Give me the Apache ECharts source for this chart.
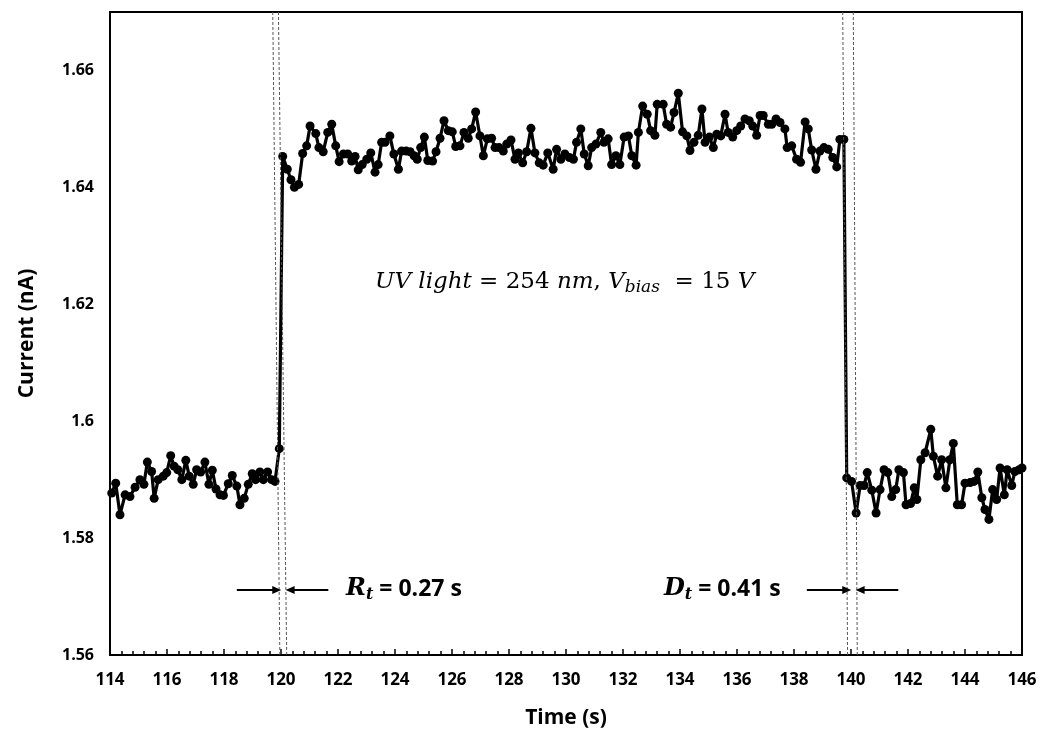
<!DOCTYPE html>
<html>
<head>
    <meta charset="utf-8">
    <script src="https://cdn.jsdelivr.net/npm/echarts@6.0.0/dist/echarts.min.js"></script>
</head>
<body style="margin:0;background:#fff;">
    <div id="main" style="width: 1044px;height:738px;"></div>
    <script type="text/javascript">

// time (s)
var times = [
    114.06,114.20,114.35,114.53,114.70,114.88,115.05,115.19,115.31,115.46,
    115.55,115.69,115.87,115.99,116.13,116.25,116.38,116.52,116.66,116.78,
    116.92,117.04,117.18,117.33,117.47,117.59,117.72,117.86,117.98,118.15,
    118.29,118.45,118.56,118.71,118.85,118.99,119.11,119.26,119.38,119.53,
    119.67,119.79,119.94,
    120.06,120.22,120.35,120.47,120.62,120.76,120.90,121.02,121.22,121.33,
    121.48,121.64,121.78,121.92,122.04,122.19,122.34,122.48,122.60,122.71,
    122.85,123.01,123.15,123.30,123.41,123.53,123.65,123.82,123.96,124.12,
    124.23,124.39,124.53,124.67,124.78,124.90,125.03,125.15,125.32,125.44,
    125.58,125.72,125.87,126.01,126.13,126.28,126.42,126.57,126.69,126.83,
    126.98,127.10,127.24,127.39,127.51,127.65,127.80,127.92,128.07,128.21,
    128.33,128.48,128.62,128.77,128.91,129.06,129.20,129.36,129.55,129.67,
    129.82,129.96,130.12,130.26,130.37,130.52,130.64,130.78,130.90,131.05,
    131.22,131.33,131.48,131.60,131.75,131.89,132.04,132.19,132.31,132.46,
    132.54,132.69,132.85,132.97,133.12,133.20,133.41,133.53,133.67,133.79,
    133.94,134.09,134.24,134.35,134.49,134.64,134.77,134.88,135.03,135.17,
    135.29,135.43,135.58,135.69,135.85,135.99,136.13,136.28,136.43,136.55,
    136.69,136.81,136.92,137.10,137.22,137.37,137.51,137.68,137.76,137.92,
    138.09,138.23,138.39,138.50,138.62,138.77,138.91,139.05,139.20,139.36,
    139.50,139.61,139.75,
    139.85,140.02,140.18,140.32,140.46,140.57,140.73,140.88,141.02,141.16,
    141.29,141.43,141.57,141.68,141.84,141.93,142.09,142.22,142.31,142.45,
    142.60,142.80,142.89,143.04,143.18,143.33,143.47,143.59,143.73,143.88,
    144.00,144.18,144.32,144.45,144.59,144.70,144.84,144.97,145.11,145.23,
    145.38,145.48,145.64,145.75,145.90,146.00
];

// current (nA)
var currents = [
    1.5877,1.5894,1.5840,1.5874,1.5871,1.5887,1.5900,1.5892,1.5930,1.5914,
    1.5868,1.5900,1.5906,1.5912,1.5941,1.5923,1.5917,1.5900,1.5933,1.5906,
    1.5892,1.5917,1.5913,1.5930,1.5892,1.5916,1.5884,1.5874,1.5873,1.5893,
    1.5907,1.5889,1.5857,1.5868,1.5892,1.5910,1.5900,1.5913,1.5900,1.5913,
    1.5900,1.5897,1.5953,
    1.6453,1.6431,1.6413,1.6400,1.6405,1.6458,1.6471,1.6505,1.6492,1.6468,
    1.6461,1.6494,1.6508,1.6471,1.6444,1.6457,1.6457,1.6445,1.6453,1.6430,
    1.6439,1.6448,1.6459,1.6426,1.6439,1.6477,1.6477,1.6488,1.6457,1.6431,
    1.6462,1.6462,1.6461,1.6454,1.6448,1.6468,1.6486,1.6446,1.6445,1.6461,
    1.6484,1.6514,1.6497,1.6495,1.6470,1.6471,1.6494,1.6484,1.6500,1.6529,
    1.6488,1.6454,1.6483,1.6484,1.6468,1.6468,1.6462,1.6474,1.6481,1.6448,
    1.6459,1.6442,1.6461,1.6501,1.6459,1.6442,1.6438,1.6459,1.6431,1.6465,
    1.6448,1.6457,1.6451,1.6448,1.6477,1.6500,1.6457,1.6437,1.6468,1.6474,
    1.6494,1.6477,1.6483,1.6439,1.6454,1.6439,1.6486,1.6488,1.6454,1.6438,
    1.6494,1.6539,1.6525,1.6497,1.6489,1.6542,1.6542,1.6508,1.6503,1.6528,
    1.6561,1.6495,1.6488,1.6463,1.6477,1.6489,1.6534,1.6477,1.6486,1.6468,
    1.6491,1.6488,1.6525,1.6494,1.6486,1.6497,1.6505,1.6517,1.6514,1.6505,
    1.6489,1.6523,1.6523,1.6508,1.6508,1.6517,1.6511,1.6500,1.6468,1.6471,
    1.6448,1.6443,1.6512,1.6500,1.6464,1.6431,1.6462,1.6468,1.6465,1.6451,
    1.6435,1.6482,1.6482,
    1.5903,1.5897,1.5843,1.5890,1.5890,1.5912,1.5882,1.5843,1.5883,1.5917,
    1.5912,1.5871,1.5883,1.5917,1.5912,1.5857,1.5859,1.5886,1.5866,1.5934,
    1.5946,1.5986,1.5940,1.5906,1.5934,1.5886,1.5934,1.5962,1.5857,1.5857,
    1.5894,1.5895,1.5897,1.5913,1.5869,1.5849,1.5832,1.5883,1.5866,1.5920,
    1.5874,1.5917,1.5890,1.5914,1.5917,1.5920
];

// dashed guide lines: [t at top, t at bottom]
var guideLines = [[119.71, 119.96], [119.91, 120.20], [139.71, 139.88], [140.08, 140.22]];
// arrows: [t start, t end] at the arrow level
var arrows = [[118.45, 119.85], [121.66, 120.32], [138.45, 139.85], [141.66, 140.32]];
var arrowLevel = 1.5711;

var yMin = 1.56, yMax = 1.67;

var data = [];
for (var i = 0; i < times.length; i++) {
    data.push([times[i], currents[i]]);
}

var markData = [];
guideLines.forEach(function (g) {
    markData.push([
        {coord: [g[0], yMax], symbol: 'none'},
        {coord: [g[1], yMin], symbol: 'none',
         lineStyle: {type: [3, 2], width: 1, color: '#555'}}
    ]);
});
arrows.forEach(function (a) {
    markData.push([
        {coord: [a[0], arrowLevel], symbol: 'none'},
        {coord: [a[1], arrowLevel], symbol: 'triangle', symbolSize: [8, 9],
         lineStyle: {type: 'solid', width: 1.8, color: '#000'}}
    ]);
});

var font = 'Open Sans';

var tRich = {
    r: {fontFamily: 'DejaVu Serif', fontStyle: 'italic', fontWeight: 'bold', fontSize: 24},
    s: {fontFamily: 'DejaVu Serif', fontStyle: 'italic', fontWeight: 'bold', fontSize: 16, padding: [11, 0, 0, 0]},
    b: {fontFamily: font, fontWeight: 'bold', fontSize: 23}
};

var option = {
    animation: false,
    grid: {
        left: 110, right: 22, top: 12, bottom: 83,
        show: true, borderColor: '#000', borderWidth: 2
    },
    xAxis: {
        type: 'value',
        min: 114, max: 146, interval: 2,
        name: 'Time (s)',
        nameLocation: 'middle',
        nameGap: 53,
        nameTextStyle: {fontFamily: font, fontWeight: 'bold', fontSize: 21, color: '#000'},
        axisLine: {lineStyle: {color: '#000', width: 2}},
        axisTick: {inside: true, length: 6, lineStyle: {color: '#000', width: 1.5}},
        minorTick: {show: true, splitNumber: 5, length: 4, lineStyle: {color: '#000', width: 1.5}},
        axisLabel: {fontFamily: font, fontWeight: 'bold', fontSize: 17, color: '#000', margin: 17},
        splitLine: {show: false}
    },
    yAxis: {
        type: 'value',
        min: yMin, max: yMax, interval: 0.02,
        name: 'Current (nA)',
        nameLocation: 'middle',
        nameGap: 72,
        nameTextStyle: {fontFamily: font, fontWeight: 'bold', fontSize: 21, color: '#000'},
        axisLine: {show: true, lineStyle: {color: '#000', width: 2}},
        axisTick: {show: false},
        axisLabel: {fontFamily: font, fontWeight: 'bold', fontSize: 16, color: '#000', margin: 16,
                    showMaxLabel: false},
        splitLine: {show: false}
    },
    series: [{
        type: 'line',
        data: data,
        symbol: 'circle',
        symbolSize: 9,
        lineStyle: {color: '#000', width: 3.2},
        itemStyle: {color: '#000'},
        markLine: {
            silent: true,
            animation: false,
            label: {show: false},
            lineStyle: {type: [3, 2], width: 1, color: '#555'},
            data: markData
        }
    }],
    graphic: [
        {
            type: 'text', x: 375, y: 282,
            style: {
                text: '{i|UV light} = 254 {i|nm}, {i|V}{s|bias}  = 15 {i|V}',
                fontFamily: 'DejaVu Serif', fontSize: 23, fill: '#000',
                verticalAlign: 'middle',
                rich: {
                    i: {fontFamily: 'DejaVu Serif', fontStyle: 'italic', fontSize: 23},
                    s: {fontFamily: 'DejaVu Serif', fontStyle: 'italic', fontSize: 17, padding: [12, 0, 0, 0]}
                }
            }
        },
        {
            type: 'text', x: 346, y: 589,
            style: {text: '{r|R}{s|t}{b| = 0.27 s}', verticalAlign: 'middle', rich: tRich}
        },
        {
            type: 'text', x: 664, y: 589,
            style: {text: '{r|D}{s|t}{b| = 0.41 s}', verticalAlign: 'middle', rich: tRich}
        }
    ]
};

var myChart = echarts.init(document.getElementById('main'));
myChart.setOption(option);

    </script>
</body>
</html>
